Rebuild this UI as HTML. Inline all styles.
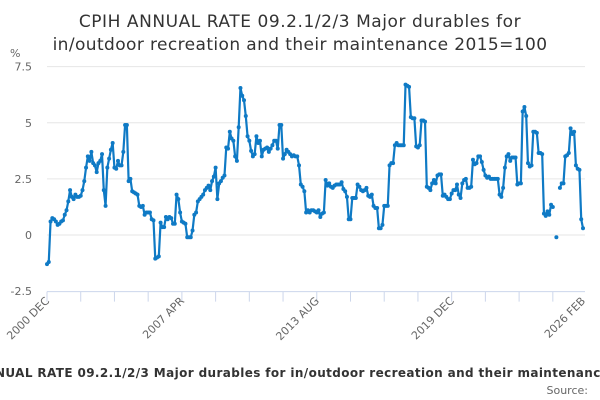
<!DOCTYPE html>
<html><head><meta charset="utf-8"><style>
html,body{margin:0;padding:0;background:#fff;}
svg{display:block;font-family:"DejaVu Sans","Liberation Sans",sans-serif;}
</style></head><body>
<svg id="chart" width="600" height="400" viewBox="0 0 600 400">
<text x="300" y="27" text-anchor="middle" font-size="17" letter-spacing="0.55" fill="#333">CPIH ANNUAL RATE 09.2.1/2/3 Major durables for</text>
<text x="300" y="50" text-anchor="middle" font-size="17" letter-spacing="0.4" fill="#333">in/outdoor recreation and their maintenance 2015=100</text>
<text x="10" y="57" font-size="11" fill="#666">%</text>
<g id="grid"></g><g id="xaxis"></g><g id="series"></g>
<text x="311" y="377" text-anchor="middle" font-size="12" letter-spacing="0.38" font-weight="bold" fill="#333">CPIH ANNUAL RATE 09.2.1/2/3 Major durables for in/outdoor recreation and their maintenance 2015=100</text>
<text x="588" y="394" text-anchor="end" font-size="11" fill="#666">Source:</text>
</svg>
<script>
const yTicks = [7.5, 5, 2.5, 0, -2.5];
const yTickLabels = ["7.5", "5", "2.5", "0", "-2.5"];
const xLabelIdx = [0, 76, 152, 228, 302];
const xLabels = ["2000 DEC", "2007 APR", "2013 AUG", "2019 DEC", "2026 FEB"];
const values = [
-1.3,-1.2,0.6,0.75,0.7,0.6,0.45,0.5,0.6,0.65,0.9,1.1,1.5,2.0,1.7,1.6,1.8,1.7,1.7,1.75,
2.0,2.4,3.0,3.5,3.3,3.7,3.2,3.1,2.8,3.2,3.3,3.6,2.0,1.3,3.0,3.4,3.8,4.1,3.0,2.95,
3.3,3.1,3.1,3.7,4.9,4.9,2.4,2.5,1.95,1.9,1.85,1.8,1.3,1.25,1.3,0.9,1.0,1.0,1.0,0.7,
0.65,-1.05,-1.0,-0.95,0.55,0.35,0.35,0.8,0.7,0.8,0.75,0.5,0.5,1.8,1.6,1.0,0.6,0.55,0.5,-0.1,
-0.1,-0.1,0.2,0.9,1.0,1.5,1.6,1.7,1.8,2.0,2.1,2.2,2.0,2.4,2.6,3.0,1.6,2.3,2.4,2.55,
2.65,3.9,3.85,4.6,4.3,4.2,3.5,3.3,4.8,6.55,6.2,6.0,5.3,4.4,4.2,3.75,3.5,3.6,4.4,4.1,
4.2,3.5,3.8,3.85,3.9,3.7,3.85,4.0,4.2,4.2,3.85,4.9,4.9,3.4,3.6,3.8,3.7,3.6,3.5,3.55,
3.5,3.5,3.1,2.25,2.15,1.95,1.0,1.1,1.0,1.1,1.1,1.05,1.0,1.1,0.8,0.95,1.0,2.45,2.2,2.3,
2.15,2.1,2.2,2.25,2.25,2.25,2.35,2.05,1.95,1.7,0.7,0.7,1.65,1.65,1.65,2.25,2.15,2.0,1.95,2.0,
2.1,1.75,1.7,1.8,1.3,1.2,1.2,0.3,0.3,0.45,1.3,1.3,1.3,3.1,3.2,3.2,4.0,4.1,4.0,4.0,
4.0,4.0,6.7,6.65,6.6,5.25,5.2,5.2,3.95,3.9,4.0,5.1,5.1,5.05,2.15,2.1,2.0,2.3,2.45,2.3,
2.65,2.7,2.7,1.75,1.8,1.7,1.6,1.6,1.85,2.0,2.0,2.25,1.8,1.65,2.3,2.45,2.5,2.1,2.1,2.15,
3.35,3.15,3.2,3.5,3.5,3.25,2.9,2.65,2.55,2.6,2.5,2.5,2.5,2.5,2.5,1.8,1.7,2.1,3.0,3.5,
3.6,3.3,3.45,3.45,3.45,2.25,2.3,2.3,5.5,5.7,5.3,3.2,3.05,3.1,4.6,4.6,4.55,3.65,3.65,3.6,
0.95,0.85,1.05,0.9,1.35,1.25,null,-0.1,null,2.1,2.3,2.3,3.5,3.55,3.65,4.75,4.5,4.6,3.1,2.95,
2.9,0.7,0.3
];
const NS = "http://www.w3.org/2000/svg";
const X0 = 47, X1 = 583, Ypx0 = 235, pxPerUnit = 22.45;
const n = values.length;
function xs(i){ return X0 + (X1 - X0) * i / (n - 1); }
function ys(v){ return Ypx0 - v * pxPerUnit; }
function mk(tag, attrs, parent){ const e = document.createElementNS(NS, tag); for (const k in attrs) e.setAttribute(k, attrs[k]); parent.appendChild(e); return e; }
const grid = document.getElementById('grid');
yTicks.forEach((t, k) => {
  if (t !== -2.5) {
    const l = mk('line', {x1: X0, x2: 585, y1: ys(t), y2: ys(t), stroke: '#e6e6e6', 'stroke-width': 1}, grid);
    
    
  }
  const tx = mk('text', {x: 32, y: ys(t) + 4, 'text-anchor': 'end', 'font-size': 11, fill: '#666'}, grid);
  tx.textContent = yTickLabels[k];
  
  
});
const xa = document.getElementById('xaxis');
const axisY = ys(-2.5) + 0.5;
const al = mk('line', {x1: X0, x2: 585, y1: axisY, y2: axisY, stroke: '#ccd6eb', 'stroke-width': 1}, xa);


for (let i = 0; i < n; i += 19) {
  const t = mk('line', {x1: xs(i), x2: xs(i), y1: axisY, y2: axisY + 10, stroke: '#ccd6eb', 'stroke-width': 1}, xa);
  
  
}
xLabelIdx.forEach((idx, k) => {
  const x = xs(idx) + 3, y = axisY + 10;
  const tx = mk('text', {x: x, y: y, 'text-anchor': 'end', 'font-size': 11, fill: '#666', transform: `rotate(-45 ${x} ${y})`}, xa);
  tx.textContent = xLabels[k];
  
  
});
const sg = document.getElementById('series');
let d = '', pen = false;
values.forEach((v, i) => {
  if (v === null) { pen = false; return; }
  d += (pen ? 'L' : 'M') + xs(i).toFixed(2) + ' ' + ys(v).toFixed(2);
  pen = true;
});
const path = mk('path', {d: d, fill: 'none', stroke: '#0f7ac5', 'stroke-width': 2.2, 'stroke-linejoin': 'round'}, sg);


values.forEach((v, i) => {
  if (v === null) return;
  const c = mk('circle', {cx: xs(i), cy: ys(v), r: 2, fill: '#0f7ac5'}, sg);
  
  
});
</script>
</body></html>
